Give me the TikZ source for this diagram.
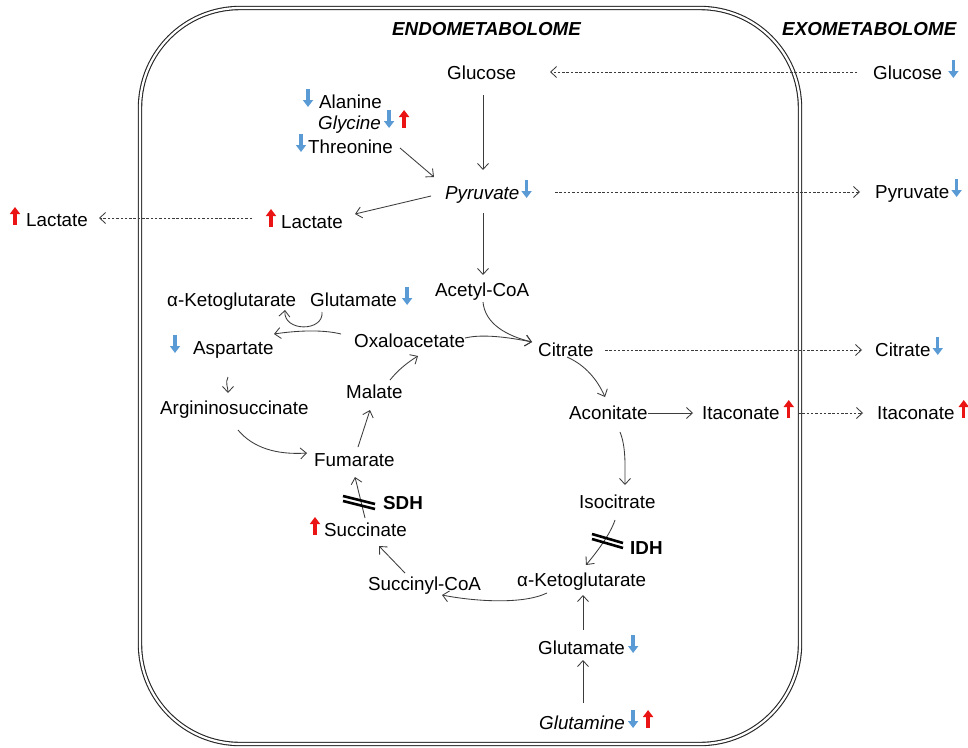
\documentclass[tikz,border=0pt]{standalone}
\usepackage{fontspec}
\setmainfont{Liberation Sans}
\usetikzlibrary{arrows.meta,calc}
\definecolor{arrblue}{RGB}{91,155,213}
\definecolor{arrred}{RGB}{235,20,20}
\definecolor{lc}{RGB}{60,60,60}
\newcommand\dnA[2]{\draw[bluearr] ($(#1)+(#2,-19)$) -- ($(#1)+(#2,-1)$);}
\newcommand\upA[2]{\draw[redarr] ($(#1)+(#2,-1)$) -- ($(#1)+(#2,-19)$);}
\begin{document}
\begin{tikzpicture}[x=1pt,y=-1pt,
 lbl/.style={anchor=base west, inner sep=0pt, font=\fontsize{18.8}{22}\selectfont},
 ilbl/.style={lbl, font=\fontsize{18.8}{22}\selectfont\itshape},
 title/.style={lbl, font=\fontsize{18.8}{22}\selectfont\bfseries\itshape},
 enz/.style={lbl, font=\fontsize{18.8}{22}\selectfont\bfseries},
 conn/.style={draw=lc, line width=0.85pt, -{Straight Barb[length=6pt,width=11pt,line width=0.85pt]}},
 dashconn/.style={conn, dash pattern=on 2.5pt off 1.8pt, line width=0.75pt},
 bluearr/.style={draw=arrblue, line width=3.4pt, -{Triangle[width=10pt,length=7pt]}},
 redarr/.style={draw=arrred, line width=3.4pt, -{Triangle[width=10pt,length=7pt]}},
 bar/.style={line width=2.6pt, black},
 border/.style={draw=black!85, double, double distance=2.2pt, line width=1.1pt, rounded corners=100pt}
]
\fill[white] (0,0) rectangle (968,747);
\useasboundingbox (0,0) rectangle (968,747);
\draw[border] (140,8) rectangle (800,744);

% titles
\node[title] (endo) at (392,35) {ENDOMETABOLOME};
\node[title] (exo) at (782,35) {EXOMETABOLOME};

% metabolites
\node[lbl] (glcI) at (447,79) {Glucose};
\node[lbl] (glcO) at (873,79) {Glucose};
\node[lbl] (ala) at (319,108) {Alanine};
\node[ilbl] (gly) at (318,129) {Glycine};
\node[lbl] (thr) at (308,153) {Threonine};
\node[ilbl] (pyr) at (445,199) {Pyruvate};
\node[lbl] (pyrO) at (875,198) {Pyruvate};
\node[lbl] (lacI) at (281,228) {Lactate};
\node[lbl] (lacO) at (26,226) {Lactate};
\node[lbl] (acoa) at (435,296) {Acetyl-CoA};
\node[lbl] (akg1) at (167,306) {α-Ketoglutarate};
\node[lbl] (glu1) at (310,306) {Glutamate};
\node[lbl] (oaa) at (354,347) {Oxaloacetate};
\node[lbl] (asp) at (193,354) {Aspartate};
\node[lbl] (cit) at (538,356) {Citrate};
\node[lbl] (citO) at (875,356) {Citrate};
\node[lbl] (argsuc) at (160,414) {Argininosuccinate};
\node[lbl] (mal) at (346,398) {Malate};
\node[lbl] (aco) at (569,419) {Aconitate};
\node[lbl] (ita) at (702,419) {Itaconate};
\node[lbl] (itaO) at (877,419) {Itaconate};
\node[lbl] (fum) at (314,466) {Fumarate};
\node[lbl] (iso) at (579,508) {Isocitrate};
\node[enz] (sdh) at (383,509) {SDH};
\node[lbl] (suc) at (324,536) {Succinate};
\node[enz] (idh) at (630,554) {IDH};
\node[lbl] (scoa) at (368,590) {Succinyl-CoA};
\node[lbl] (akg2) at (517,586) {α-Ketoglutarate};
\node[lbl] (glu2) at (538,654) {Glutamate};
\node[ilbl] (gln) at (539,729) {Glutamine};

% up / down markers
\dnA{glcO.base east}{11}
\dnA{ala.base west}{-11}
\dnA{gly.base east}{8}
\upA{gly.base east}{23}
\dnA{thr.base west}{-7}
\dnA{pyr.base east}{7}
\dnA{pyrO.base east}{7}
\upA{lacI.base west}{-10}
\upA{lacO.base west}{-11}
\dnA{glu1.base east}{10}
\dnA{asp.base west}{-18}
\dnA{citO.base east}{7}
\upA{ita.base east}{9}
\upA{itaO.base east}{9}
\upA{suc.base west}{-9}
\dnA{glu2.base east}{8}
\dnA{gln.base east}{8}
\upA{gln.base east}{23}

% connectors
\draw[conn] ($(glcI.base west)+(36,16)$) -- ($(pyr.base west)+(38,-29)$);
\draw[conn] ($(thr.base west)+(92,-5)$) -- ($(pyr.base west)+(-11,-22)$);
\draw[conn] ($(pyr.base west)+(-14,-3)$) -- ($(lacI.base west)+(74,-14)$);
\draw[dashconn] ($(lacI.base west)+(-29,-10)$) -- ($(lacO.base west)+(73,-8)$);
\draw[dashconn] ($(pyr.base west)+(110,-7)$) -- ($(pyrO.base west)+(-15,-6)$);
\draw[dashconn] ($(glcO.base west)+(-16,-7)$) -- ($(glcI.base west)+(103,-7)$);
\draw[conn] ($(pyr.base west)+(38,14)$) -- ($(acoa.base west)+(48,-21)$);
\draw[conn] ($(acoa.base west)+(48,6)$) .. controls +(2,22) and +(-25,-6) .. ($(cit.base west)+(-6,-14)$);
\draw[conn] ($(oaa.base west)+(111,-9)$) .. controls +(20,-5) and +(-15,-3) .. ($(cit.base west)+(-6,-14)$);
\draw[conn] ($(oaa.base west)+(-13,-13)$) .. controls +(-20,-5) and +(20,-3) .. ($(asp.base west)+(81,-20)$);
\draw[conn] ($(glu1.base west)+(12,6)$) .. controls +(2,20) and +(-2,22) .. ($(akg1.base west)+(118,4)$);
\draw[conn] ($(asp.base west)+(35,23)$) .. controls +(-3,6) and +(0,-6) .. ($(argsuc.base west)+(68,-21)$);
\draw[conn] ($(argsuc.base west)+(78,16)$) .. controls +(15,18) and +(-30,2) .. ($(fum.base west)+(-7,-13)$);
\draw[conn] ($(fum.base west)+(44,-19)$) -- ($(mal.base west)+(24,12)$);
\draw[conn] ($(mal.base west)+(44,-18)$) .. controls +(8,-10) and +(-10,6) .. ($(oaa.base west)+(64,9)$);
\draw[conn] ($(suc.base west)+(41,-18)$) -- ($(fum.base west)+(41,11)$);
\draw[conn] ($(scoa.base west)+(37,-17)$) -- ($(suc.base west)+(55,10)$);
\draw[conn] ($(akg2.base west)+(30,7)$) .. controls +(-25,12) and +(30,6) .. ($(scoa.base west)+(74,5)$);
\draw[conn] ($(iso.base west)+(36,12)$) .. controls +(-5,15) and +(10,-12) .. ($(akg2.base west)+(69,-21)$);
\draw[conn] ($(glu2.base west)+(45,-24)$) -- ($(akg2.base west)+(66,9)$);
\draw[conn] ($(gln.base west)+(44,-26)$) -- ($(glu2.base west)+(45,6)$);
\draw[conn] ($(cit.base west)+(29,1)$) .. controls +(18,8) and +(-8,-18) .. ($(aco.base west)+(36,-22)$);
\draw[conn] ($(aco.base west)+(79,-6)$) -- ($(ita.base west)+(-9,-6)$);
\draw[conn] ($(aco.base west)+(51,13)$) .. controls +(6,15) and +(0,-20) .. ($(iso.base west)+(46,-23)$);
\draw[dashconn] ($(cit.base west)+(67,-6)$) -- ($(citO.base west)+(-13,-6)$);
\draw[dashconn] ($(ita.base west)+(96,-6)$) -- ($(itaO.base west)+(-14,-6)$);

% enzyme blocks
\draw[bar] ($(sdh.base west)+(-40,-13)$) -- ($(sdh.base west)+(-8,-5)$);
\draw[bar] ($(sdh.base west)+(-40,-8)$) -- ($(sdh.base west)+(-8,0)$);
\draw[bar] ($(idh.base west)+(-38,-20)$) -- ($(idh.base west)+(-7,-11)$);
\draw[bar] ($(idh.base west)+(-38,-15)$) -- ($(idh.base west)+(-7,-6)$);
\end{tikzpicture}
\end{document}
